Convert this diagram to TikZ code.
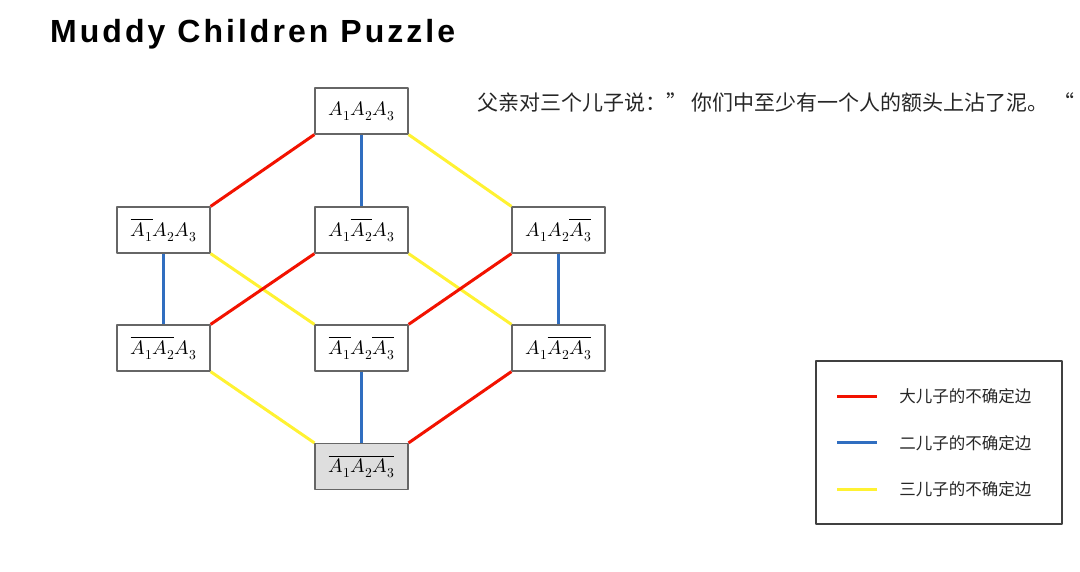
\documentclass[tikz,border=0pt]{standalone}
\usepackage{fontspec}
\usepackage{unicode-math}
\setmathfont{Latin Modern Math}
\newfontfamily\titlefont[LetterSpace=9.5]{Liberation Sans}
\newfontfamily\cjk{Noto Sans CJK SC}
\newcommand\worldsize{\fontsize{19.5}{22}\selectfont}
\usetikzlibrary{positioning}

\tikzset{
  world/.style={draw=black!60, line width=1.2pt, fill=white, minimum width=93pt,
    minimum height=46pt, inner sep=0pt},
  actual/.style={world, fill=black!13},
  eldest/.style={draw=edgered, line width=3pt},
  second/.style={draw=edgeblue, line width=3pt},
  third/.style={draw=edgeyellow, line width=3pt}
}

\begin{document}
\begin{tikzpicture}[x=1pt, y=-1pt, line cap=butt, line join=round]
  \colorlet{edgered}{red!85!orange!95!black}
  \definecolor{edgeblue}{RGB}{48,110,192}
  \definecolor{edgeyellow}{RGB}{255,242,50}
  \useasboundingbox (0,0) rectangle (1080,572);

  \node[anchor=base west, inner sep=0pt, font=\titlefont\bfseries\fontsize{32}{36}\selectfont]
    (title) at (50,43) {Muddy Children Puzzle};
  \node[anchor=west, inner sep=0pt, font=\cjk\fontsize{21}{24}\selectfont, text=black!85]
    (father) at (477,102) {父亲对三个儿子说：” 你们中至少有一个人的额头上沾了泥。 “};

  \node[world] (top) at (361.5,111) {\worldsize$A_1A_2A_3$};
  \node[world] (l2) at (163.5,230) {\worldsize$\overline{A_1}A_2A_3$};
  \node[world] (m2) at (361.5,230) {\worldsize$A_1\overline{A_2}A_3$};
  \node[world] (r2) at (558.5,230) {\worldsize$A_1A_2\overline{A_3}$};
  \node[world] (l3) at (163.5,348) {\worldsize$\overline{A_1A_2}A_3$};
  \node[world] (m3) at (361.5,348) {\worldsize$\overline{A_1}A_2\overline{A_3}$};
  \node[world] (r3) at (558.5,348) {\worldsize$A_1\overline{A_2A_3}$};
  \node[actual] (bot) at (361.5,466.5) {\worldsize$\overline{A_1A_2A_3}$};

  \foreach \from/\to/\who in {top.south west/l2.north east/eldest, top.south/m2.north/second,
      top.south east/r2.north west/third, l2.south/l3.north/second,
      l2.south east/m3.north west/third, m2.south west/l3.north east/eldest,
      m2.south east/r3.north west/third, r2.south west/m3.north east/eldest,
      r2.south/r3.north/second, l3.south east/bot.north west/third,
      m3.south/bot.north/second, r3.south west/bot.north east/eldest} {%
    \draw[\who] (\from) -- (\to);
  }

  \node[draw=black!75, line width=1.5pt, minimum width=246pt, minimum height=163pt]
    (legend) at (939,442.5) {};
  \foreach \who/\txt [count=\i] in {eldest/大儿子的不确定边, second/二儿子的不确定边,
      third/三儿子的不确定边} {%
    \coordinate (key\i) at ([xshift=22pt, yshift=-36pt-(\i-1)*46.5pt]legend.north west);
    \draw[\who] (key\i) -- ++(40,0);
    \node[anchor=west, inner sep=0pt, font=\cjk\fontsize{16.5}{19}\selectfont, text=black!85]
      (txt\i) at ([xshift=62pt]key\i) {\txt};
  }
\end{tikzpicture}
\end{document}
